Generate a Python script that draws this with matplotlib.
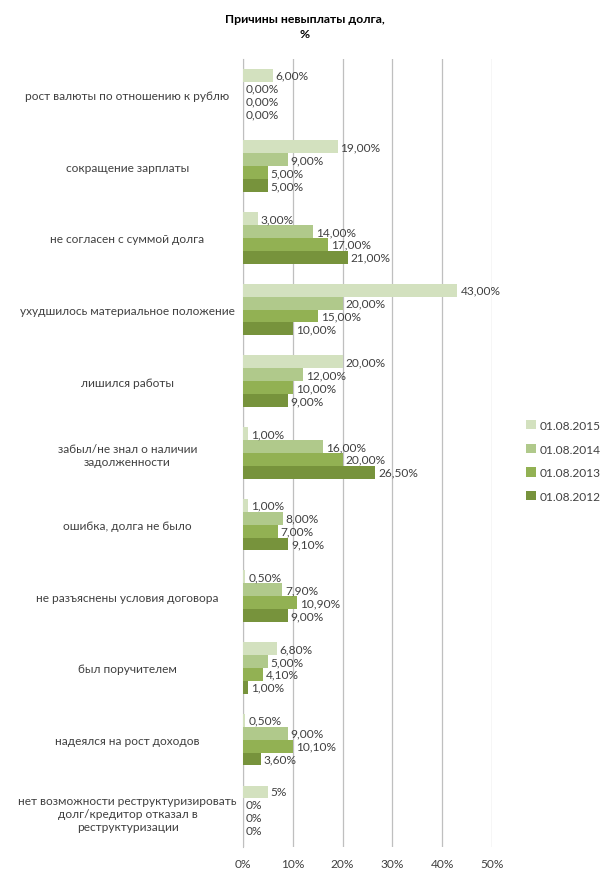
import matplotlib
matplotlib.use("Agg")
import matplotlib.pyplot as plt
import numpy as np

plt.rcParams['font.family'] = ['Lato', 'DejaVu Sans']

categories = [
    "рост валюты по отношению к рублю",
    "сокращение зарплаты",
    "не согласен с суммой долга",
    "ухудшилось материальное положение",
    "лишился работы",
    "забыл/не знал о наличии\nзадолженности",
    "ошибка, долга не было",
    "не разъяснены условия договора",
    "был поручителем",
    "надеялся на рост доходов",
    "нет возможности реструктуризировать\nдолг/кредитор отказал в\nреструктуризации",
]
series = ["01.08.2015", "01.08.2014", "01.08.2013", "01.08.2012"]
v2015 = [6, 19, 3, 43, 20, 1, 1, 0.5, 6.8, 0.5, 5]
v2014 = [0, 9, 14, 20, 12, 16, 8, 7.9, 5, 9, 0]
v2013 = [0, 5, 17, 15, 10, 20, 7, 10.9, 4.1, 10.1, 0]
v2012 = [0, 5, 21, 10, 9, 26.5, 9.1, 9, 1, 3.6, 0]
xticks = [0, 10, 20, 30, 40, 50]
colors = ['#d3e1bf', '#b0c98b', '#92b153', '#77933c']
fs = 8.6

fig = plt.figure(figsize=(6.1, 8.78), dpi=100)
ax = fig.add_axes([0.398, 0.034, 0.409, 0.898])

n = len(categories)
y = np.arange(n)
h = 0.18
data = [v2015, v2014, v2013, v2012]
for i, (vals, c, s) in enumerate(zip(data, colors, series)):
    pos = y - 1.5 * h + i * h
    bars = ax.barh(pos, vals, height=h, color=c, label=s, zorder=3)
    for j, (b, v) in enumerate(zip(bars, vals)):
        if j == n - 1:
            txt = f"{v:.0f}%"
        else:
            txt = f"{v:.2f}%".replace('.', ',')
        ax.text(v + 0.6, pos[j], txt, va='center', ha='left',
                fontsize=fs, color='#404040', zorder=4)

ax.set_ylim(n - 0.5, -0.5)
ax.set_xlim(0, 50)
ax.set_yticks(y)
ax.set_yticklabels(categories, fontsize=fs, color='#404040', ha='center')
for lbl in ax.get_yticklabels():
    lbl.set_multialignment('center')
ax.tick_params(axis='y', length=0, pad=83)
ax.set_xticks(xticks)
ax.set_xticklabels([f"{t}%" for t in xticks], fontsize=fs, color='#404040')
ax.tick_params(axis='x', length=0, pad=8)
ax.grid(axis='x', color='#bfbfbf', linewidth=0.9, zorder=0)
for sp in ['top', 'right', 'bottom']:
    ax.spines[sp].set_visible(False)
ax.spines['left'].set_color('#bfbfbf')

fig.text(0.5, 0.969, "Причины невыплаты долга,\n%", ha='center', va='center',
         fontsize=8.8, fontweight='bold', color='#000000', linespacing=1.5)

fig.legend(loc='center left', bbox_to_anchor=(0.845, 0.474), frameon=False,
           fontsize=fs, handlelength=0.8, handleheight=0.8, handletextpad=0.3,
           labelspacing=1.05, labelcolor='#404040')

fig.savefig("out.png", dpi=100)
